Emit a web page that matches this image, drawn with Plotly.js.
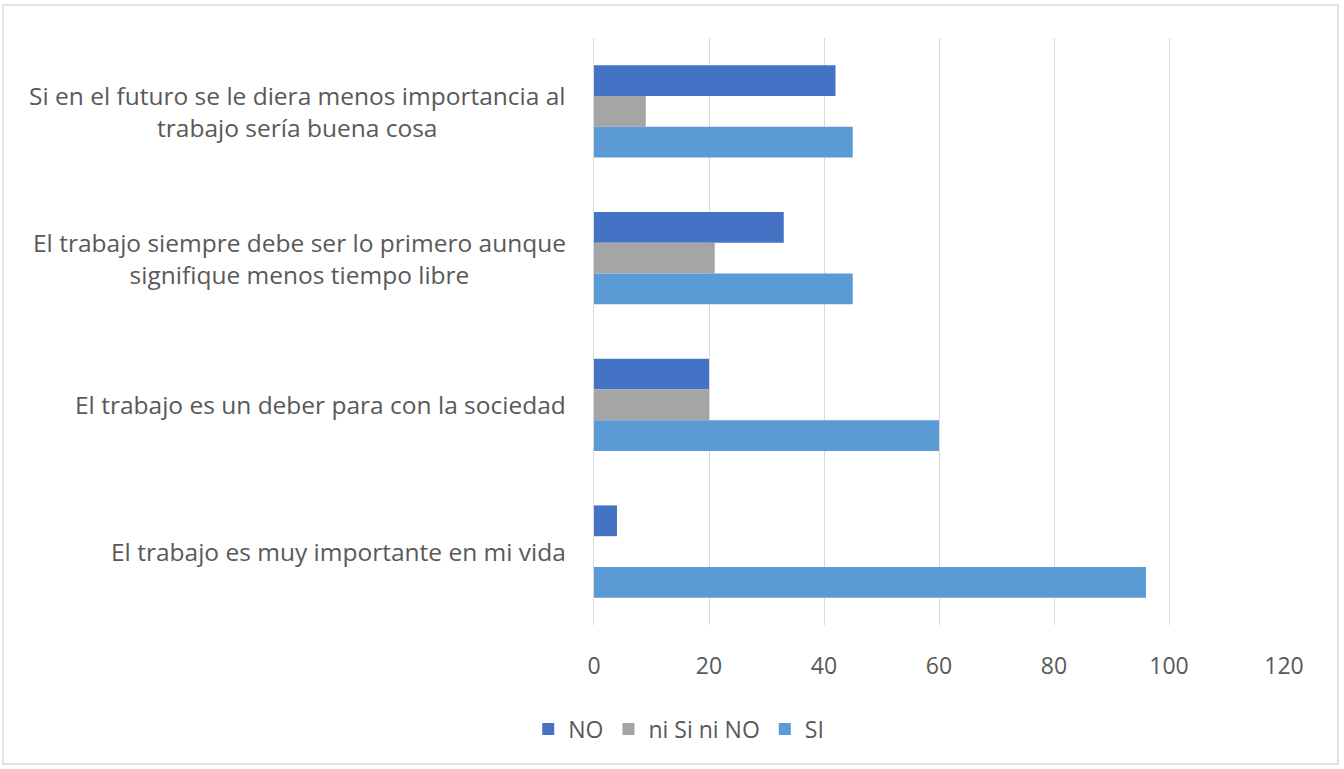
<!DOCTYPE html>
<html>
<head>
<meta charset="utf-8">
<script src="https://cdn.plot.ly/plotly-3.0.1.min.js"></script>
<style>html,body{margin:0;padding:0;background:#fff;}#chart{width:1344px;height:769px;}</style>
</head>
<body>
<div id="chart"></div>
<script>
// Categories, top to bottom as displayed
const categories = [
  "Si en el futuro se le diera menos importancia al<br>trabajo sería buena cosa",
  "El trabajo siempre debe ser lo primero aunque<br>signifique menos tiempo libre",
  "El trabajo es un deber para con la sociedad",
  "El trabajo es muy importante en mi vida"
];
const seriesNames = ["NO", "ni Si ni NO", "SI"];
const valuesNO = [42, 33, 20, 4];
const valuesNi = [9, 21, 20, 0];
const valuesSI = [45, 45, 60, 96];
const xTicks = [0, 20, 40, 60, 80, 100, 120];

const colors = ["#4472C4", "#A5A5A5", "#5B9BD5"];
const txt = "#595959";
const font = "Open Sans, Liberation Sans, sans-serif";

const series = [valuesNO, valuesNi, valuesSI];
const traces = series.map((vals, i) => ({
  type: "bar",
  orientation: "h",
  name: seriesNames[i],
  x: vals,
  y: categories,
  marker: {color: colors[i]},
  hoverinfo: "x+name"
}));

const annotations = categories.map(c => ({
  xref: "paper", yref: "y",
  x: -0.038, y: c,
  xanchor: "right", yanchor: "middle",
  text: c, showarrow: false,
  align: "center",
  font: {family: font, size: 24.5, color: txt}
}));

const layout = {
  width: 1344, height: 769,
  margin: {l: 594, r: 60, t: 38, b: 144},
  paper_bgcolor: "#fff", plot_bgcolor: "#fff",
  barmode: "group",
  bargap: 0.37,
  bargroupgap: 0,
  xaxis: {
    range: [0, 120],
    tickvals: xTicks,
    ticktext: xTicks.map(String),
    showgrid: true, gridcolor: "#D9D9D9", gridwidth: 1,
    zeroline: false, showline: false,
    ticks: "", ticklabelstandoff: 25,
    tickfont: {family: font, size: 23, color: txt},
    fixedrange: true
  },
  yaxis: {
    type: "category",
    autorange: "reversed",
    showticklabels: false,
    showgrid: false, zeroline: false,
    showline: true, linecolor: "#D9D9D9", linewidth: 1,
    ticks: "",
    fixedrange: true
  },
  showlegend: true,
  legend: {
    orientation: "h",
    xref: "container", yref: "container",
    x: 0.505, xanchor: "center",
    y: 1 - 729 / 769, yanchor: "middle",
    font: {family: font, size: 23, color: txt},
    itemwidth: 30,
    traceorder: "normal"
  },
  annotations: annotations,
  shapes: [{
    type: "rect", xref: "paper", yref: "paper",
    x0: (3 - 594) / 690, x1: (1338 - 594) / 690,
    y0: -(764 - 625) / 587, y1: 1 + (38 - 5) / 587,
    line: {color: "#D9D9D9", width: 1.5},
    fillcolor: "rgba(0,0,0,0)",
    layer: "below"
  }]
};

Plotly.newPlot("chart", traces, layout, {displayModeBar: false, staticPlot: true});
</script>
</body>
</html>
